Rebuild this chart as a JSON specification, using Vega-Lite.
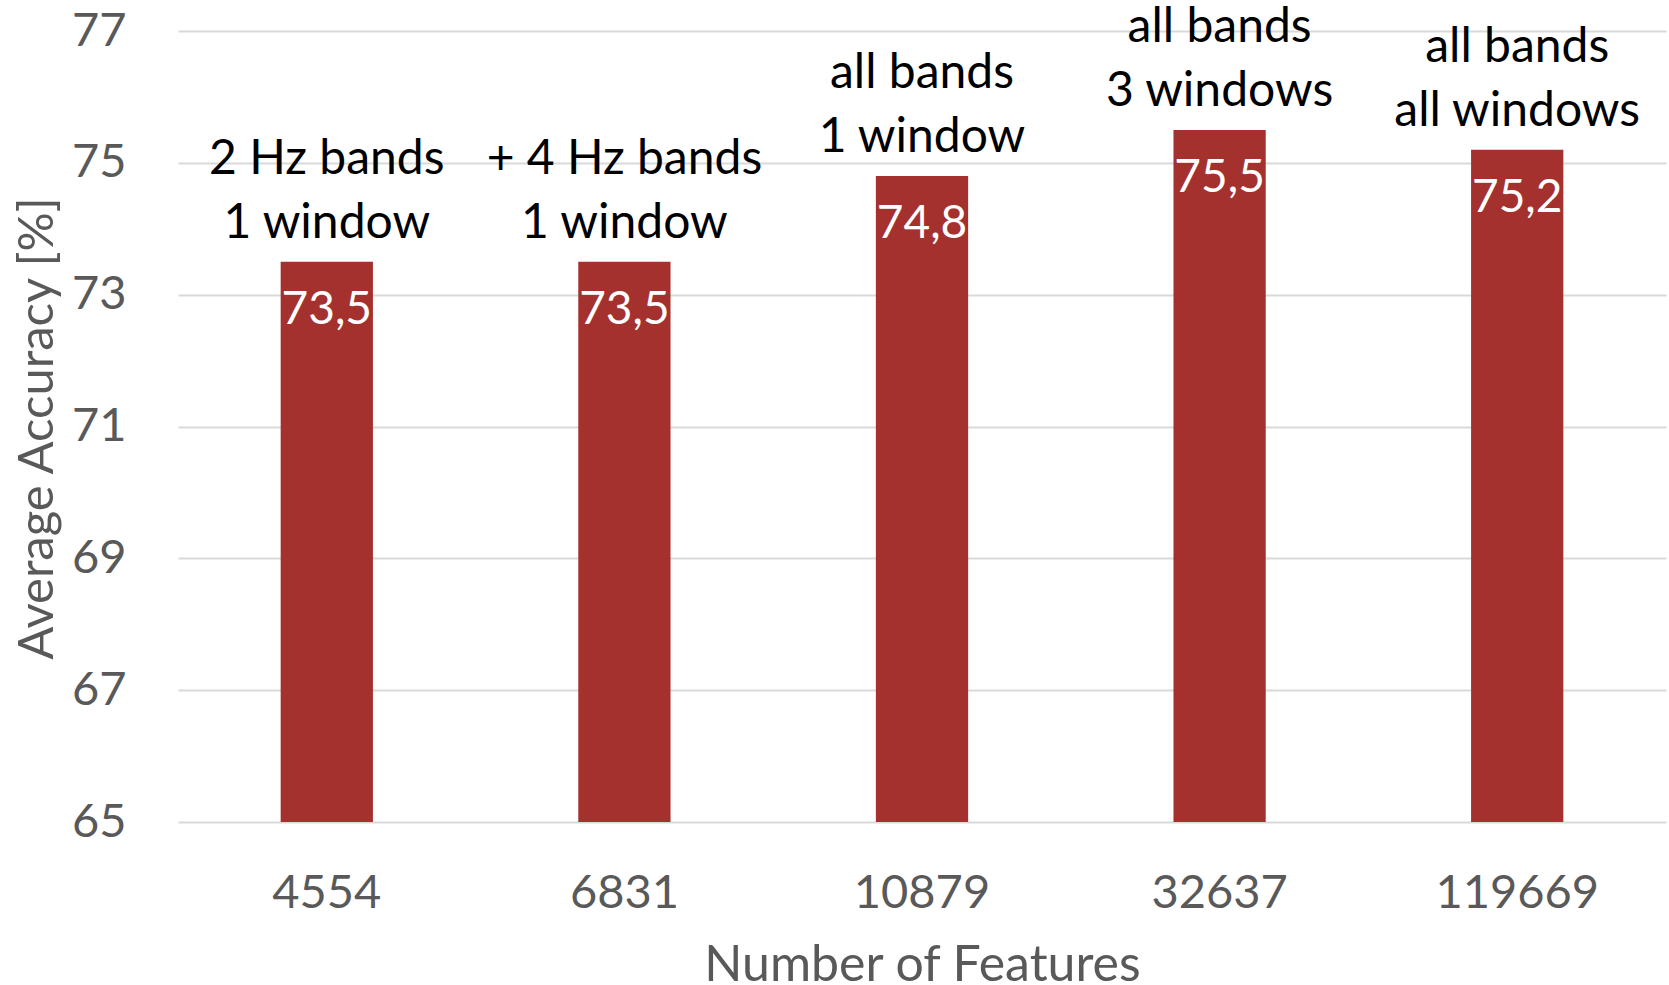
{
  "$schema": "https://vega.github.io/schema/vega-lite/v6.json",
  "width": 1488,
  "height": 791,
  "autosize": "none",
  "padding": {"left": 178, "top": 31, "right": 3, "bottom": 163},
  "background": "white",
  "data": {
    "values": [
      {"features": "4554", "accuracy": 73.5, "setup": "2 Hz bands\n1 window"},
      {"features": "6831", "accuracy": 73.5, "setup": "+ 4 Hz bands\n1 window"},
      {"features": "10879", "accuracy": 74.8, "setup": "all bands\n1 window"},
      {"features": "32637", "accuracy": 75.5, "setup": "all bands\n3 windows"},
      {"features": "119669", "accuracy": 75.2, "setup": "all bands\nall windows"}
    ]
  },
  "encoding": {
    "x": {
      "field": "features",
      "type": "nominal",
      "sort": null,
      "scale": {"paddingInner": 0.69, "paddingOuter": 0.345},
      "axis": {
        "title": "Number of Features",
        "labelAngle": 0,
        "labelFont": "Lato",
        "labelFontSize": 47,
        "labelColor": "#595959",
        "labelPadding": 48,
        "ticks": false,
        "tickSize": 0,
        "domain": false,
        "titleFont": "Lato",
        "titleFontSize": 50,
        "titleFontWeight": "normal",
        "titleColor": "#595959",
        "titlePadding": 24
      }
    },
    "y": {
      "field": "accuracy",
      "type": "quantitative",
      "scale": {"domain": [65, 77], "nice": false, "zero": false},
      "axis": {
        "title": "Average Accuracy [%]",
        "values": [65, 67, 69, 71, 73, 75, 77],
        "labelFont": "Lato",
        "labelFontSize": 47,
        "labelColor": "#595959",
        "labelPadding": 52,
        "ticks": false,
        "tickSize": 0,
        "domain": false,
        "grid": true,
        "gridColor": "#D9D9D9",
        "gridWidth": 2,
        "titleFont": "Lato",
        "titleFontSize": 49,
        "titleFontWeight": "normal",
        "titleColor": "#595959",
        "titleAngle": -90,
        "titleX": -141,
        "titleY": 397,
        "titleAlign": "center",
        "titleBaseline": "middle"
      }
    }
  },
  "layer": [
    {"mark": {"type": "bar", "color": "#A5312F", "clip": true}},
    {
      "mark": {
        "type": "text",
        "font": "Lato",
        "fontSize": 48,
        "lineHeight": 64,
        "lineBreak": "\n",
        "baseline": "alphabetic",
        "align": "center",
        "dy": -88,
        "color": "#000000"
      },
      "encoding": {"text": {"field": "setup", "type": "nominal"}}
    },
    {
      "mark": {
        "type": "text",
        "font": "Lato",
        "fontSize": 46,
        "baseline": "alphabetic",
        "align": "center",
        "dy": 62,
        "color": "#FFFFFF"
      },
      "encoding": {"text": {"field": "accuracy", "type": "quantitative", "format": ".1f"}}
    }
  ],
  "config": {
    "view": {"stroke": null},
    "locale": {
      "number": {"decimal": ",", "thousands": ".", "grouping": [3], "currency": ["", " €"]}
    }
  }
}
